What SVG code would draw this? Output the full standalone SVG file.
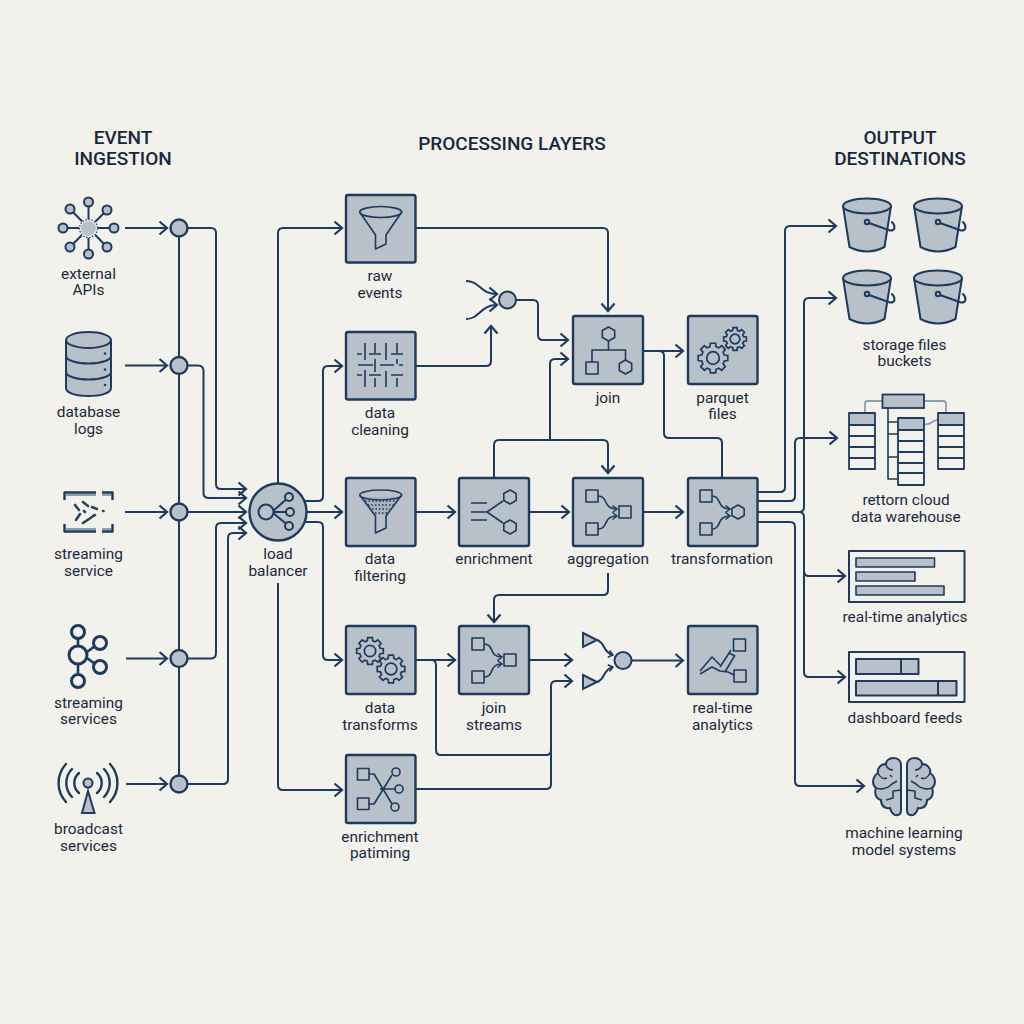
<svg xmlns="http://www.w3.org/2000/svg" width="1024" height="1024" viewBox="0 0 1024 1024">
<style>
text{font-family:Roboto,"Liberation Sans",sans-serif;font-size:15.400px;fill:#1a2a3c;text-anchor:middle}
.h{font-size:19px;font-weight:500;fill:#17293f}
.c{fill:none;stroke:#1e3a5c;stroke-width:2;stroke-linejoin:round}
.a{marker-end:url(#ah)}
.s{marker-end:url(#as)}
.n{fill:#b8c0c9;stroke:#1e3a5c;stroke-width:2.400}
.i{fill:#b8c0c9;stroke:#1e3a5c;stroke-width:2}
.l{fill:none;stroke:#1e3a5c;stroke-width:2;stroke-linecap:round;stroke-linejoin:round}
.t{fill:none;stroke:#1e3a5c;stroke-width:1.600;stroke-linejoin:round}
.g{fill:none;stroke:#1e3a5c;stroke-width:1.700}
.q{fill:#b8c0c9;stroke:none}
.k{fill:#1e3a5c;stroke:none}
.f{fill:none;stroke:#8f9cab;stroke-width:1.800}
.p{fill:#4c617a;stroke:#2b4462;stroke-width:2.600;stroke-linecap:round}
</style>
<defs>
<marker id="ah" markerUnits="userSpaceOnUse" markerWidth="22" markerHeight="22" refX="11" refY="11" orient="auto" viewBox="0 0 22 22"><path d="M3.500,4.500 L11,11 L3.500,17.500" fill="none" stroke="#1e3a5c" stroke-width="2.200"/></marker>
<marker id="as" markerUnits="userSpaceOnUse" markerWidth="10" markerHeight="10" refX="7" refY="5" orient="auto" viewBox="0 0 10 10"><path d="M2.500,1.500 L7,5 L2.500,8.500" fill="none" stroke="#1e3a5c" stroke-width="1.500"/></marker>
<path id="gear" vector-effect="non-scaling-stroke" d="M75.300,-20.200L98.500,-17.400L98.500,17.400L75.300,20.200L67.500,39L81.900,57.400L57.400,81.900L39,67.500L20.200,75.300L17.400,98.500L-17.400,98.500L-20.200,75.300L-39,67.500L-57.400,81.900L-81.900,57.400L-67.500,39L-75.300,20.200L-98.500,17.400L-98.500,-17.400L-75.300,-20.200L-67.500,-39L-81.900,-57.400L-57.400,-81.900L-39,-67.500L-20.200,-75.300L-17.400,-98.500L17.400,-98.500L20.200,-75.300L39,-67.500L57.400,-81.900L81.900,-57.400L67.500,-39Z M42,0A42,42 0 1 0 -42,0A42,42 0 1 0 42,0Z"/>
<path id="hex" d="M0,-7L6.200,-3.500L6.200,3.500L0,7L-6.200,3.500L-6.200,-3.500Z"/>
<g id="bucket">
<path class="i" d="M-24,0L-17.500,41Q0,50 17.500,41L24,0"/>
<ellipse class="i" cx="0" cy="0" rx="24" ry="7.500"/>
<circle class="i" cx="0" cy="16" r="2.200"/>
<path class="l" d="M2,17L23,24.500C28,25 29,20 25,16"/>
</g>
<g id="brainhalf">
<path class="i" d="M901,765C901,760 897,758 893,758C889,758 886,761 886,764C880,764 877,769 878,773C873,776 871,784 876,788C874,793 876,799 881,800C881,806 885,809 890,808C891,813 895,816 897,815C900,815 901,813 901,810Z"/>
<path class="t" d="M886,764C886,768 890,770 893,770M878,773C880,778 884,779 887,778M876,788C882,790 888,788 892,784L897,781M901,790L893,791L893,798L886,800M890,775L892,777"/>
</g>
</defs>
<rect width="1024" height="1024" fill="#f2f1ec"/>

<g id="headers">
<text class="h" x="123" y="144">EVENT</text><text class="h" x="123" y="165">INGESTION</text>
<text class="h" x="512" y="150">PROCESSING LAYERS</text>
<text class="h" x="900" y="144">OUTPUT</text><text class="h" x="900" y="165">DESTINATIONS</text>
</g>

<g id="connectors">
<path class="c" d="M179,228V784"/>
<path class="c a" d="M125,228H167"/><path class="c a" d="M125,365.500H167"/><path class="c a" d="M125,512H167"/><path class="c a" d="M126,658.500H167"/><path class="c a" d="M126,784H167"/>
<path class="c a" d="M188,228H211Q216,228 216,233V484Q216,489 221,489H246"/>
<path class="c a" d="M188,365.500H198Q203.500,365.500 203.500,371V493Q203.500,498 209,498H246"/>
<path class="c a" d="M188,512H246"/>
<path class="c a" d="M188,658.500H211Q216,658.500 216,653V528Q216,523 221,523H246"/>
<path class="c a" d="M188,784H223Q228,784 228,779V538Q228,533 233,533H246"/>
<path class="c a" d="M278,483V233Q278,228 283,228H342"/>
<path class="c a" d="M305,501H318Q323,501 323,496V371Q323,366 328,366H342"/>
<path class="c a" d="M307,512H342"/>
<path class="c a" d="M306,522H318Q323,522 323,527V655Q323,660 328,660H342"/>
<path class="c a" d="M278,583V785Q278,790 283,790H342"/>
<path class="c a" d="M416,228H603Q608,228 608,233V311"/>
<path class="c a" d="M466,281C480,281 480,294 497,294"/>
<path class="c a" d="M466,319C480,319 480,305 497,305"/>
<path class="c a" d="M416,366H486Q491,366 491,361V326"/>
<path class="c a" d="M516,300H533Q538,300 538,305V335Q538,340 543,340H568"/>
<path class="c a" d="M494,477V445Q494,440 499,440H603Q608,440 608,445V473"/>
<path class="c a" d="M550,440V364Q550,359 555,359H568"/>
<path class="c a" d="M644,351H683"/>
<path class="c" d="M659,351Q664,351 664,356V433Q664,438 669,438H717Q722,438 722,443V477"/>
<path class="c a" d="M416,512H455"/><path class="c a" d="M530,512H569"/><path class="c a" d="M644,512H683"/>
<path class="c a" d="M608,573V590Q608,595 603,595H499Q494,595 494,600V622"/>
<path class="c a" d="M416,660H455"/>
<path class="c" d="M431,660Q436,660 436,665V750Q436,755 441,755H546Q551,755 551,750"/>
<path class="c a" d="M416,789H546Q551,789 551,784V686Q551,681 556,681H572"/>
<path class="c a" d="M530,660H572"/>
<path class="c s" d="M597,640C606,643 602,652 613,655"/>
<path class="c s" d="M597,682C606,679 602,670 613,667"/>
<path class="c a" d="M632,660.500H683"/>
<path class="c a" d="M758,492H780Q785,492 785,487V231Q785,226 790,226H836"/>
<path class="c a" d="M758,501H790Q795,501 795,496V443Q795,438 800,438H837"/>
<path class="c a" d="M758,512H799Q804,512 804,507V303Q804,298 809,298H836"/>
<path class="c a" d="M799,512Q804,512 804,517V571Q804,576 809,576H845"/>
<path class="c a" d="M804,570V672Q804,677 809,677H845"/>
<path class="c a" d="M758,522H790Q795,522 795,527V781Q795,786 800,786H864"/>
</g>

<g id="hub-1"><circle class="n" cx="179" cy="228" r="8.500"/></g>
<g id="hub-2"><circle class="n" cx="179" cy="365.500" r="8.500"/></g>
<g id="hub-3"><circle class="n" cx="179" cy="512" r="8.500"/></g>
<g id="hub-4"><circle class="n" cx="179" cy="658.500" r="8.500"/></g>
<g id="hub-5"><circle class="n" cx="179" cy="784" r="8.500"/></g>

<g id="external-apis">
<path class="l" d="M88.500,202V254M70,209L107,247M107,210L70,247M63,228H114"/>
<circle class="i" cx="88.500" cy="202" r="4.500"/><circle class="i" cx="70" cy="209" r="4.500"/><circle class="i" cx="107" cy="210" r="4.500"/><circle class="i" cx="63" cy="228" r="4.500"/><circle class="i" cx="114" cy="228" r="4.500"/><circle class="i" cx="70" cy="247" r="4.500"/><circle class="i" cx="107" cy="247" r="4.500"/><circle class="i" cx="88.500" cy="254" r="4.500"/>
<circle cx="88.500" cy="228.500" r="9.500" fill="#f2f1ec"/>
<circle cx="88.500" cy="228.500" r="7.500" fill="#b8c0c9"/>
<circle cx="88.500" cy="228.500" r="9" fill="none" stroke="#1e3a5c" stroke-width="1.200" stroke-dasharray="1.500 1.500"/>
<text x="88.500" y="279">external</text><text x="88.500" y="295">APIs</text>
</g>

<g id="database-logs">
<path class="i" d="M66,340V388C66,393 76,396 88.500,396C101,396 111,393 111,388V340"/>
<ellipse class="i" cx="88.500" cy="340" rx="22.500" ry="8"/>
<path class="l" d="M66,356C66,360 76,363.500 88.500,363.500C101,363.500 111,360 111,356M66,372C66,376 76,379.500 88.500,379.500C101,379.500 111,376 111,372"/>
<circle class="k" cx="105" cy="353.500" r="1.300"/><circle class="k" cx="105" cy="369.500" r="1.300"/><circle class="k" cx="105" cy="385" r="1.300"/>
<text x="88.500" y="417">database</text><text x="88.500" y="434">logs</text>
</g>

<g id="streaming-service">
<path class="f" style="stroke-width:2.200" d="M66,495H96M102,495H111M66,529H96M102,529H111"/>
<path class="c" style="stroke-width:2.400" d="M64.500,500V492.500H96M102,492.500H112.500V500M64.500,524V531.500H96M102,531.500H112.500V524"/>
<path class="p" d="M75,505L79,510M83,502L88,506M92,507L97,509M84,511L85,512M76,520L80,514M83,523L92,517M93,516L95,515M103,511L103.500,511"/>
<text x="88.500" y="559">streaming</text><text x="88.500" y="576">service</text>
</g>

<g id="streaming-services">
<path class="l" style="stroke-width:2.600" d="M78,638V675M87,652L95,646M87,658L95,664"/>
<g style="fill:#f2f1ec;stroke:#1e3a5c;stroke-width:3"><circle cx="78" cy="632" r="6.500"/><circle cx="78" cy="681" r="6.500"/><circle cx="100" cy="643" r="6.500"/><circle cx="100" cy="667" r="6.500"/><circle cx="78" cy="655" r="9"/></g>
<text x="88.500" y="708">streaming</text><text x="88.500" y="724">services</text>
</g>

<g id="broadcast-services">
<path class="l" style="stroke-width:2.400" d="M79,773A13,13 0 0 0 79,793M97,773A13,13 0 0 1 97,793M72,769A20,20 0 0 0 72,797M104,769A20,20 0 0 1 104,797M66,764A28,28 0 0 0 66,802M110,764A28,28 0 0 1 110,802"/>
<path class="i" d="M88,791L82,813H94.500Z"/><circle class="i" cx="88" cy="783" r="4.500"/>
<text x="88.500" y="834">broadcast</text><text x="88.500" y="851">services</text>
</g>

<g id="load-balancer">
<circle class="n" cx="278" cy="512" r="28.500"/>
<path class="l" d="M273,511L289,497M273,512H290M273,513L289,526"/>
<circle class="i" cx="266" cy="512" r="7.500"/><circle class="i" cx="289" cy="497" r="4"/><circle class="i" cx="290" cy="512" r="4"/><circle class="i" cx="289" cy="526" r="4"/>
<text x="278" y="559">load</text><text x="278" y="576">balancer</text>
</g>

<g id="raw-events">
<rect class="n" x="346" y="195" width="69.500" height="67.500" rx="2"/>
<ellipse class="t" cx="380.700" cy="212" rx="21" ry="5.500"/>
<path class="t" d="M359.700,212L375.500,235V249L386,244V235L401.700,212"/>
<text x="380" y="281">raw</text><text x="380" y="298">events</text>
</g>

<g id="data-cleaning">
<rect class="n" x="346" y="332" width="69.500" height="67.500" rx="2"/>
<path class="t" d="M365,343V360M375,343V353M386,343V360M397,343V353M357,354H362M369,354H381M391,354H403M358,365H373M380,365H394M399,365H403M375,359V372M386,371V387M397,359V364M365,370V387M375,378V387M397,378V387M357,375H362M369,375H381M391,375H403"/>
<text x="380" y="418">data</text><text x="380" y="435">cleaning</text>
</g>

<g id="data-filtering">
<rect class="n" x="346" y="478" width="69.500" height="68" rx="2"/>
<path d="M361,497H401L386,515H375Z" fill="#aab3bd"/>
<path d="M365,501H397M368,505H394M372,509H390M375,513H387" fill="none" stroke="#1e3a5c" stroke-width="1.500" stroke-dasharray="1.500 2"/>
<ellipse class="t" cx="380.700" cy="495" rx="21" ry="5"/>
<path class="t" d="M359.700,495L375.500,516V533L386,528V516L401.700,495"/>
<text x="380" y="564">data</text><text x="380" y="581">filtering</text>
</g>

<g id="data-transforms">
<rect class="n" x="346" y="626" width="69.500" height="68" rx="2"/>
<use href="#gear" class="g" transform="translate(370,651) scale(.135)"/>
<use href="#gear" class="g" transform="translate(391,669) scale(.14)"/>
<text x="380" y="713">data</text><text x="380" y="730">transforms</text>
</g>

<g id="enrichment-patiming">
<rect class="n" x="346" y="755" width="69.500" height="68" rx="2"/>
<rect class="t" x="357.500" y="768.500" width="11.500" height="11.500"/><rect class="t" x="357.500" y="798" width="11.500" height="11.500"/>
<circle class="t" cx="396" cy="772" r="4"/><circle class="t" cx="399" cy="789" r="4"/><circle class="t" cx="395" cy="807" r="4"/>
<path class="t" d="M369,774H374L392,804M369,804H374L392,775M380,789H395"/>
<text x="380" y="842">enrichment</text><text x="380" y="858">patiming</text>
</g>

<g id="merge-a"><circle class="n" cx="507.500" cy="300" r="8.500" style="stroke-width:2"/></g>

<g id="join">
<rect class="n" x="573" y="316" width="70" height="68" rx="2"/>
<use href="#hex" class="t" transform="translate(608.500,334)"/>
<path class="t" d="M608.500,341V350M592,362V350H625.500V360"/>
<rect class="t" x="586" y="362" width="12" height="12"/>
<use href="#hex" class="t" transform="translate(625.500,367)"/>
<text x="608" y="403">join</text>
</g>

<g id="parquet-files">
<rect class="n" x="688" y="316" width="69.500" height="68" rx="2"/>
<use href="#gear" class="g" transform="translate(713,358) scale(.15)"/>
<use href="#gear" class="g" transform="translate(735,339) scale(.115)"/>
<text x="722.500" y="403">parquet</text><text x="722.500" y="419">files</text>
</g>

<g id="enrichment">
<rect class="n" x="459" y="478" width="70" height="68" rx="2"/>
<path class="t" d="M471,503H487M471,512H487M471,520H487M503,501L487,512L503,523"/>
<use href="#hex" class="t" transform="translate(510,497)"/><use href="#hex" class="t" transform="translate(510,527)"/>
<text x="494" y="564">enrichment</text>
</g>

<g id="aggregation">
<rect class="n" x="573" y="478" width="70" height="68" rx="2"/>
<rect class="t" x="586" y="490" width="12" height="12"/><rect class="t" x="586" y="523" width="12" height="12"/><rect class="t" x="619" y="506" width="12" height="12"/>
<path class="t s" d="M598,496C609,496 602,509 617,509"/><path class="t s" d="M598,529C609,529 602,516 617,516"/>
<text x="608" y="564">aggregation</text>
</g>

<g id="transformation">
<rect class="n" x="688" y="478" width="69.500" height="68" rx="2"/>
<rect class="t" x="700" y="490" width="12" height="12"/><rect class="t" x="700" y="523" width="12" height="12"/>
<use href="#hex" class="t" transform="translate(738,512)"/>
<path class="t s" d="M712,496C722,496 716,509 730,509"/><path class="t s" d="M712,529C722,529 716,516 730,516"/>
<text x="722" y="564">transformation</text>
</g>

<g id="join-streams">
<rect class="n" x="459" y="626" width="70" height="68" rx="2"/>
<rect class="t" x="472" y="638" width="12" height="12"/><rect class="t" x="472" y="671" width="12" height="12"/><rect class="t" x="504" y="654" width="12" height="12"/>
<path class="t s" d="M484,644C495,644 488,657 502,657"/><path class="t s" d="M484,677C495,677 488,664 502,664"/>
<text x="494" y="713">join</text><text x="494" y="730">streams</text>
</g>

<g id="merge-b">
<path class="i" d="M583,633L597,640L583,647Z"/><path class="i" d="M583,675L597,682L583,689Z"/>
<circle class="n" cx="623" cy="660.500" r="8.500" style="stroke-width:2"/>
</g>

<g id="real-time-analytics-node">
<rect class="n" x="688" y="626" width="69.500" height="68" rx="2"/>
<rect class="t" x="733.500" y="639" width="12" height="12"/><rect class="t" x="734" y="670" width="12" height="12"/>
<path class="t" d="M700,671L712,657L720,665M700,674L712,667L720,671L728,672L734,675M720,667L731,650M725,672L735,655M729,653L735,656"/>
<text x="722.500" y="713">real-time</text><text x="722.500" y="730">analytics</text>
</g>

<g id="storage-files-buckets">
<use href="#bucket" transform="translate(867,206)"/><use href="#bucket" transform="translate(938,206)"/>
<use href="#bucket" transform="translate(867,278)"/><use href="#bucket" transform="translate(938,278)"/>
<text x="904.500" y="350">storage files</text><text x="904.500" y="366">buckets</text>
</g>

<g id="data-warehouse">
<path class="f" d="M882,401H868Q865,401 865,404V413M924,401H943Q946,401 946,404V413M924,424C931,426 931,420 938,420"/>
<path class="t" d="M888,408V479H898M888,422H898M888,434H898M888,457H898"/>
<rect class="n" x="882.500" y="394.500" width="41.500" height="13.500" style="stroke-width:1.800"/>
<rect class="q" x="849" y="413" width="26" height="12"/><rect class="t" style="stroke-width:1.800" x="849" y="413" width="26" height="56"/><path class="t" style="stroke-width:1.800" d="M849,425H875M849,436H875M849,447H875M849,458H875"/>
<rect class="q" x="938" y="413" width="26" height="12"/><rect class="t" style="stroke-width:1.800" x="938" y="413" width="26" height="56"/><path class="t" style="stroke-width:1.800" d="M938,425H964M938,436H964M938,447H964M938,458H964"/>
<rect x="898" y="418" width="26" height="67" fill="#f2f1ec"/>
<rect class="q" x="898" y="418" width="26" height="12"/><rect class="t" style="stroke-width:1.800" x="898" y="418" width="26" height="67"/><path class="t" style="stroke-width:1.800" d="M898,430H924M898,441H924M898,452H924M898,463H924M898,473H924"/>
<text x="906" y="505">rettorn cloud</text><text x="906" y="522">data warehouse</text>
</g>

<g id="real-time-analytics-output">
<rect class="t" style="stroke-width:2" x="849" y="551" width="115.500" height="51"/>
<rect class="t" style="fill:#b8c0c9" x="856" y="558" width="78.500" height="9"/><rect class="t" style="fill:#b8c0c9" x="856" y="572" width="59" height="9"/><rect class="t" style="fill:#b8c0c9" x="856" y="586" width="88" height="9"/>
<text x="905" y="622">real-time analytics</text>
</g>

<g id="dashboard-feeds">
<rect class="t" style="stroke-width:2" x="849" y="652" width="115.500" height="50"/>
<rect class="t" style="fill:#b8c0c9;stroke-width:2" x="856" y="659" width="62.500" height="15"/><path class="t" style="stroke-width:2" d="M901,659V674"/>
<rect class="t" style="fill:#b8c0c9;stroke-width:2" x="856" y="681" width="100.500" height="14.500"/><path class="t" style="stroke-width:2" d="M938,681V695.500"/>
<text x="905" y="723">dashboard feeds</text>
</g>

<g id="machine-learning">
<use href="#brainhalf"/><use href="#brainhalf" transform="translate(1808,0) scale(-1,1)"/>
<text x="904" y="838">machine learning</text><text x="904" y="855">model systems</text>
</g>
</svg>
